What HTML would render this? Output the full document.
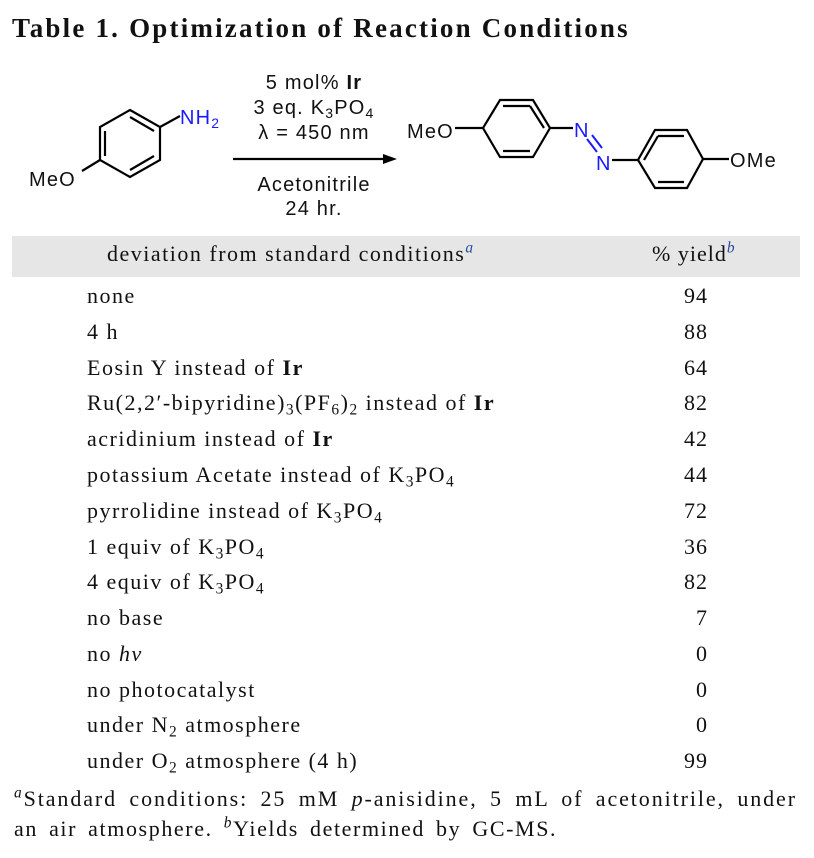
<!DOCTYPE html>
<html><head><meta charset="utf-8"><style>
body{margin:0;width:814px;height:858px;background:#fff;position:relative;overflow:hidden;font-family:"Liberation Serif",serif;color:#111}
.t{position:absolute;white-space:nowrap}
.r{position:absolute;left:87px;font-size:22px;letter-spacing:1.5px;white-space:nowrap}
.y{position:absolute;left:640px;width:68px;text-align:right;font-size:22px;letter-spacing:1px}
sub{font-size:0.7em;vertical-align:-0.3em;line-height:0}
sup{font-size:0.7em;line-height:0}
</style></head><body>
<div class="t" style="left:12px;top:13px;font-size:27px;letter-spacing:2.2px;font-weight:bold">Table 1. Optimization of Reaction Conditions</div>

<svg style="position:absolute;left:0;top:0" width="814" height="235">
<g stroke="#000" stroke-width="2.2" fill="none">
<polygon points="130,110 160,127 160,160 130,177 100,160 100,127"/>
<line x1="105" y1="131" x2="105" y2="156"/><line x1="130" y1="117" x2="154" y2="131"/><line x1="130" y1="170" x2="154" y2="156"/>
<line x1="160" y1="127" x2="180" y2="116"/><line x1="100" y1="160" x2="82" y2="171"/>
<line x1="233" y1="159" x2="385" y2="159"/>
<polygon points="500,100 533,100 550,128 533,157 500,157 483,128"/>
<line x1="503" y1="106" x2="530" y2="106"/><line x1="503" y1="151" x2="530" y2="151"/><line x1="544" y1="128" x2="530" y2="106"/>
<line x1="455" y1="128" x2="483" y2="128"/><line x1="550" y1="128" x2="573" y2="128"/>
<polygon points="638,160 655,130 687,130 703,159 687,188 655,188"/>
<line x1="658" y1="136" x2="684" y2="136"/><line x1="658" y1="182" x2="684" y2="182"/><line x1="644" y1="160" x2="658" y2="136"/>
<line x1="612" y1="160" x2="638" y2="160"/><line x1="703" y1="159" x2="729" y2="159"/>
</g>
<g stroke="#1a1aff" stroke-width="2"><line x1="587" y1="139" x2="597" y2="152"/><line x1="592" y1="135" x2="602" y2="148"/></g>
<polygon points="397,159 383,154 383,164" fill="#000"/>
<g font-family="Liberation Sans,sans-serif" font-size="20" letter-spacing="1.2" fill="#111">
<text x="180" y="124" fill="#1a1aff">NH<tspan font-size="14" dy="4">2</tspan></text>
<text x="29" y="186">MeO</text>
<text x="407" y="138">MeO</text>
<text x="730" y="167">OMe</text>
<text x="574" y="137" fill="#1a1aff">N</text>
<text x="596" y="170" fill="#1a1aff">N</text>
<g text-anchor="middle">
<text x="314" y="89">5 mol% <tspan font-weight="bold">Ir</tspan></text>
<text x="314" y="114">3 eq. K<tspan font-size="14" dy="4">3</tspan><tspan dy="-4">PO</tspan><tspan font-size="14" dy="4">4</tspan></text>
<text x="314" y="139">λ = 450 nm</text>
<text x="314" y="191">Acetonitrile</text>
<text x="314" y="215">24 hr.</text>
</g></g>
</svg>

<div style="position:absolute;left:12px;top:236px;width:788px;height:41px;background:#e6e6e6"></div>
<div class="t" style="left:107px;top:241px;font-size:22px;letter-spacing:1.5px">deviation from standard conditions<sup style="color:#2a4a9a;font-style:italic">a</sup></div>
<div class="t" style="left:652px;top:241px;font-size:22px;letter-spacing:1px">% yield<sup style="color:#2a4a9a;font-style:italic">b</sup></div>

<div class="r" style="top:283px">none</div><div class="y" style="top:283px">94</div>
<div class="r" style="top:319px">4 h</div><div class="y" style="top:319px">88</div>
<div class="r" style="top:355px">Eosin Y instead of <b>Ir</b></div><div class="y" style="top:355px">64</div>
<div class="r" style="top:390px">Ru(2,2′-bipyridine)<sub>3</sub>(PF<sub>6</sub>)<sub>2</sub> instead of <b>Ir</b></div><div class="y" style="top:390px">82</div>
<div class="r" style="top:426px">acridinium instead of <b>Ir</b></div><div class="y" style="top:426px">42</div>
<div class="r" style="top:462px">potassium Acetate instead of K<sub>3</sub>PO<sub>4</sub></div><div class="y" style="top:462px">44</div>
<div class="r" style="top:498px">pyrrolidine instead of K<sub>3</sub>PO<sub>4</sub></div><div class="y" style="top:498px">72</div>
<div class="r" style="top:534px">1 equiv of K<sub>3</sub>PO<sub>4</sub></div><div class="y" style="top:534px">36</div>
<div class="r" style="top:569px">4 equiv of K<sub>3</sub>PO<sub>4</sub></div><div class="y" style="top:569px">82</div>
<div class="r" style="top:605px">no base</div><div class="y" style="top:605px">7</div>
<div class="r" style="top:641px">no <i>hν</i></div><div class="y" style="top:641px">0</div>
<div class="r" style="top:677px">no photocatalyst</div><div class="y" style="top:677px">0</div>
<div class="r" style="top:712px">under N<sub>2</sub> atmosphere</div><div class="y" style="top:712px">0</div>
<div class="r" style="top:748px">under O<sub>2</sub> atmosphere (4 h)</div><div class="y" style="top:748px">99</div>

<div class="t" style="left:14px;top:786px;font-size:22px;letter-spacing:1.9px;word-spacing:5px"><sup><i>a</i></sup>Standard conditions: 25 mM <i>p</i>-anisidine, 5 mL of acetonitrile, under</div>
<div class="t" style="left:14px;top:816px;font-size:22px;letter-spacing:1.6px;word-spacing:4px">an air atmosphere. <sup><i>b</i></sup>Yields determined by GC-MS.</div>
</body></html>
